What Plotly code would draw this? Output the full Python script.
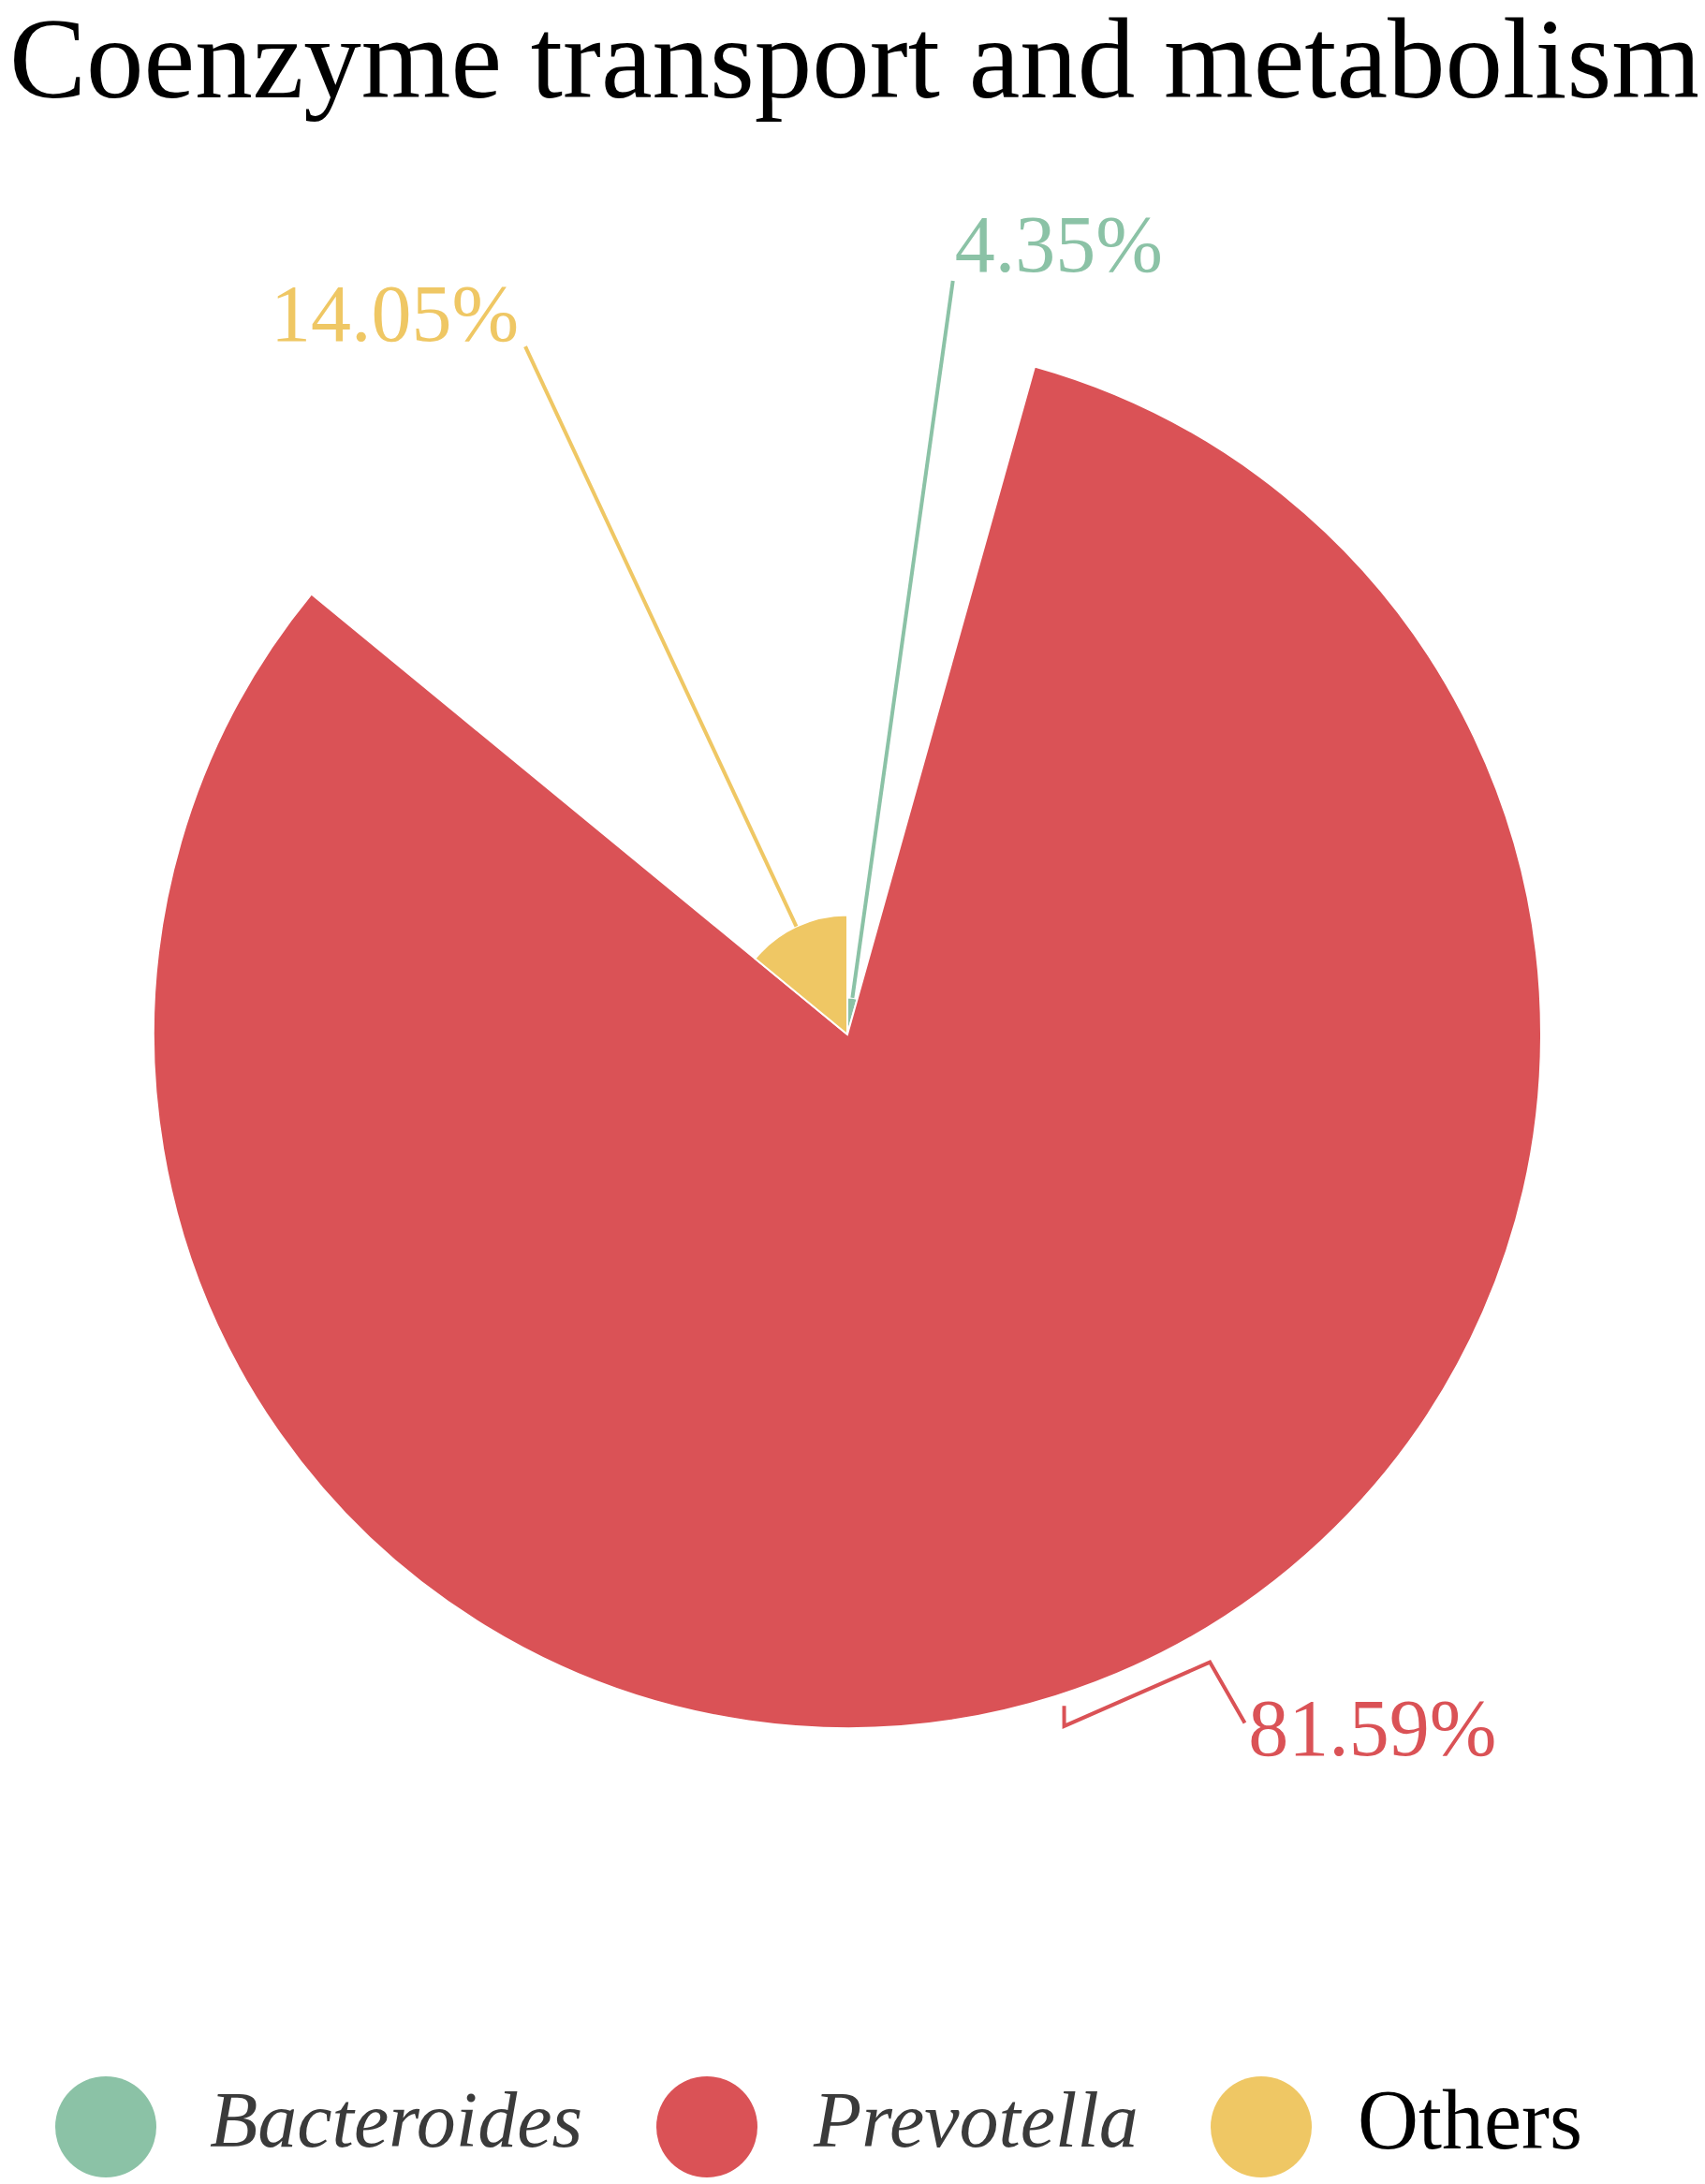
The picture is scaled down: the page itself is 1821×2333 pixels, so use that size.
import numpy as np
import plotly.graph_objects as go

# ---------------- data ----------------
categories = ["Bacteroides", "Prevotella", "Others"]
values = [4.35, 81.59, 14.05]
label_texts = ["4.35%", "81.59%", "14.05%"]
colors = ["#8bc2a6", "#da5256", "#efc764"]
title_text = "Coenzyme transport and metabolism"

# ---------------- layout constants ----------------
W, H = 1821, 2333
CX, CY, R = 897, 1097, 741          # polar frame centre / outer radius of largest slice in px
PAD = 1.2                            # extra radial room so labels fit inside the polar frame
FONT = "Liberation Serif"

total = sum(values)
rmax = max(values)
widths = [v / total * 360.0 for v in values]
starts = np.concatenate([[0.0], np.cumsum(widths)[:-1]])
centers = [s + w / 2 for s, w in zip(starts, widths)]

# leader-line bends, relative to each slice: (radius factor of max radius, angle offset from slice centre)
leader_bends = {
    "Bacteroides": [(1.097, 0.14)],
    "Prevotella": [(1.017, -0.43), (1.045, 0.06), (1.045, -12.54), (1.146, -12.53)],
    "Others": [(1.095, 0.21)],
}
# text anchors (radius factor, angle offset, text position)
label_anchor = {
    "Bacteroides": (1.139, -0.02, "middle right"),
    "Prevotella": (1.164, -12.30, "middle right"),
    "Others": (1.1334, 0.59, "middle left"),
}

fig = go.Figure()

fig.add_trace(go.Barpolar(
    r=values, theta=centers, width=widths,
    marker=dict(color=colors, line=dict(color="white", width=2)),
    showlegend=False, hoverinfo="skip",
))

for cat, v, c, th, txt in zip(categories, values, colors, centers, label_texts):
    rs = [v] + [f * rmax for f, _ in leader_bends[cat]]
    ts = [th] + [th + d for _, d in leader_bends[cat]]
    if cat == "Prevotella":
        rs = rs[1:]
        ts = ts[1:]
    fig.add_trace(go.Scatterpolar(
        r=rs, theta=ts, mode="lines",
        line=dict(color=c, width=4),
        cliponaxis=False, showlegend=False, hoverinfo="skip",
    ))
    f, d, pos = label_anchor[cat]
    fig.add_trace(go.Scatterpolar(
        r=[f * rmax], theta=[th + d], mode="text", text=[txt],
        textposition=pos,
        textfont=dict(family=FONT, size=86, color=c),
        cliponaxis=False, showlegend=False, hoverinfo="skip",
    ))

# ---------------- custom legend ----------------
legend_circle_x = [105, 747, 1339]
legend_text_x = [214, 858, 1440]
legend_y = 2264
legend_d = 108
legend_italic = [True, True, False]
legend_size = [84, 84, 90]
shapes = []
annotations = []
for cat, c, lx, tx, it, fs in zip(categories, colors, legend_circle_x, legend_text_x, legend_italic, legend_size):
    shapes.append(dict(
        type="circle", xref="paper", yref="paper",
        x0=(lx - legend_d / 2) / W, x1=(lx + legend_d / 2) / W,
        y0=1 - (legend_y + legend_d / 2) / H, y1=1 - (legend_y - legend_d / 2) / H,
        fillcolor=c, line=dict(width=0),
    ))
    annotations.append(dict(
        xref="paper", yref="paper", x=tx / W, y=1 - (legend_y - 8) / H,
        xanchor="left", yanchor="middle", showarrow=False,
        text=f"<i>{cat}</i>" if it else cat,
        font=dict(family=FONT, size=fs, color="#3a3a3a" if it else "#000000"),
    ))

annotations.append(dict(
    xref="paper", yref="paper", x=0 / W, y=1 + 16 / H,
    xanchor="left", yanchor="top", showarrow=False,
    text=title_text,
    font=dict(family=FONT, size=123, color="#000000"),
))

RP = R * PAD
fig.update_layout(
    width=W, height=H,
    margin=dict(l=0, r=0, t=0, b=0),
    paper_bgcolor="white", plot_bgcolor="white",
    showlegend=False,
    polar=dict(
        domain=dict(x=[(CX - RP) / W, (CX + RP) / W], y=[1 - (CY + RP) / H, 1 - (CY - RP) / H]),
        bgcolor="rgba(0,0,0,0)",
        bargap=0,
        radialaxis=dict(range=[0, rmax * PAD], visible=False, showgrid=False),
        angularaxis=dict(direction="clockwise", rotation=90, visible=False, showgrid=False),
    ),
    shapes=shapes,
    annotations=annotations,
)

fig.write_html("out.html")
